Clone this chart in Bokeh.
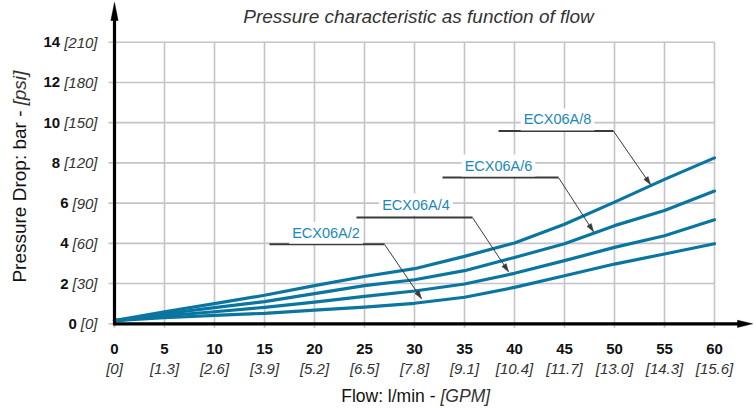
import math
from bokeh.plotting import figure
from bokeh.models import Range1d, Label, ColumnDataSource
from bokeh.core.properties import value
from bokeh.embed import file_html
from bokeh.resources import INLINE

# ---------------- data ----------------
flow = [0, 5, 10, 15, 20, 25, 30, 35, 40, 45, 50, 55, 60]
dp_ecx06a_2 = [0.16, 0.30, 0.42, 0.52, 0.68, 0.83, 1.02, 1.32, 1.81, 2.39, 2.97, 3.47, 3.98]
dp_ecx06a_4 = [0.16, 0.40, 0.60, 0.82, 1.08, 1.36, 1.63, 1.98, 2.51, 3.14, 3.80, 4.38, 5.17]
dp_ecx06a_6 = [0.16, 0.50, 0.80, 1.10, 1.50, 1.90, 2.19, 2.64, 3.30, 3.98, 4.88, 5.63, 6.60]
dp_ecx06a_8 = [0.16, 0.60, 1.00, 1.42, 1.90, 2.35, 2.74, 3.35, 4.02, 4.95, 6.05, 7.18, 8.25]
series_names = ["ECX06A/2", "ECX06A/4", "ECX06A/6", "ECX06A/8"]

x_ticks = [0, 5, 10, 15, 20, 25, 30, 35, 40, 45, 50, 55, 60]
x_flow_labels = ["0", "5", "10", "15", "20", "25", "30", "35", "40", "45", "50", "55", "60"]
x_gpm_labels = ["[0]", "[1.3]", "[2.6]", "[3.9]", "[5.2]", "[6.5]", "[7.8]",
                "[9.1]", "[10.4]", "[11.7]", "[13.0]", "[14.3]", "[15.6]"]
y_ticks = [0, 2, 4, 6, 8, 10, 12, 14]
y_bar_labels = ["0", "2", "4", "6", "8", "10", "12", "14"]
y_psi_labels = ["[0]", "[30]", "[60]", "[90]", "[120]", "[150]", "[180]", "[210]"]

title_text = "Pressure characteristic as function of flow"
x_title = "Flow: l/min -"
x_title_unit = "[GPM]"
y_title = "Pressure Drop: bar -"
y_title_unit = "[psi]"

# callout annotations (data units)
label_x = [21.15, 30.15, 38.4, 44.3]
label_y = [4.53, 5.93, 7.87, 10.16]
leader_x0 = [15.5, 24.2, 32.8, 38.4]
leader_x1 = [27.0, 35.8, 44.4, 49.9]
leader_y = [3.95, 5.28, 7.27, 9.58]
tip_x = [30.7, 39.4, 47.9, 53.6]
tip_y = [1.25, 2.59, 4.58, 6.92]

# ---------------- style ----------------
FONT = "Liberation Sans"
CURVE = "#0a76a0"
LABEL_C = "#1b88b8"
GRID = "#c4c4ca"
LEAD = "#3a3a3a"
W, H = 754, 408
PX_X = 10.0            # pixels per l/min
PX_Y = 20.114          # pixels per bar
X0_PX, Y0_PX = 114.0, 323.3   # pixel position of the origin

def dx(px):  # pixel length -> data length (x)
    return px / PX_X

def dy(px):  # pixel length -> data length (y)
    return px / PX_Y

p = figure(width=W, height=H,
           x_range=Range1d(-X0_PX / PX_X, (W - X0_PX) / PX_X),
           y_range=Range1d(-(H - Y0_PX) / PX_Y, Y0_PX / PX_Y),
           output_backend="svg", toolbar_location=None,
           x_axis_location=None, y_axis_location=None, min_border=0)
p.outline_line_color = None
p.background_fill_color = "white"
p.border_fill_color = "white"
p.xgrid.visible = False
p.ygrid.visible = False

x_max, y_max = x_ticks[-1], y_ticks[-1]

# grid lines (with the small outward tick)
p.segment(x0=x_ticks, y0=[-dy(4)] * len(x_ticks), x1=x_ticks, y1=[y_max] * len(x_ticks),
          line_color=GRID, line_width=1.6)
p.segment(x0=[-dx(6)] * len(y_ticks), y0=y_ticks, x1=[x_max] * len(y_ticks), y1=y_ticks,
          line_color=GRID, line_width=1.6)

# curves
for ys in (dp_ecx06a_2, dp_ecx06a_4, dp_ecx06a_6, dp_ecx06a_8):
    p.line(flow, ys, line_color=CURVE, line_width=3.2, line_join="round", line_cap="round")

# leader lines and arrow heads
p.segment(x0=leader_x0, y0=leader_y, x1=leader_x1, y1=leader_y, line_color=LEAD, line_width=2)
p.segment(x0=leader_x1, y0=leader_y, x1=tip_x, y1=tip_y, line_color=LEAD, line_width=1)
head_xs, head_ys = [], []
for i in range(len(tip_x)):
    vx = (tip_x[i] - leader_x1[i]) * PX_X
    vy = (tip_y[i] - leader_y[i]) * PX_Y
    L = math.hypot(vx, vy)
    ux, uy = vx / L, vy / L
    hl, hw = 8.0, 2.6
    bx, by = -ux * hl, -uy * hl
    nx, ny = -uy * hw, ux * hw
    head_xs.append([tip_x[i], tip_x[i] + dx(bx + nx), tip_x[i] + dx(bx - nx)])
    head_ys.append([tip_y[i], tip_y[i] + dy(by + ny), tip_y[i] + dy(by - ny)])
p.patches(head_xs, head_ys, fill_color=LEAD, line_color=LEAD, line_width=0.5)

for i in range(len(series_names)):
    p.add_layout(Label(x=label_x[i], y=label_y[i], text=series_names[i], text_align="center",
                       text_baseline="middle", text_font=FONT, text_font_size="14.5px",
                       text_color=LABEL_C, background_fill_color="white", padding=3))

# axis lines with arrow heads
x_axis_end = (752 - X0_PX) / PX_X
y_axis_end = (Y0_PX - 2) / PX_Y
p.segment(x0=[-dx(1.5), 0], y0=[0, -dy(1.5)], x1=[x_axis_end - dx(10), 0], y1=[0, y_axis_end - dy(10)],
          line_color="black", line_width=3.2)
p.patches(
    [[x_axis_end, x_axis_end - dx(15), x_axis_end - dx(15)], [0, -dx(3.6), dx(3.6)]],
    [[0, dy(3.6), -dy(3.6)], [y_axis_end, y_axis_end - dy(18), y_axis_end - dy(18)]],
    fill_color="black", line_color="black", line_width=0.5)

# y tick labels: italic psi (right-aligned) and bold bar numbers before them
psi_src = ColumnDataSource(dict(x=[-dx(17)] * len(y_ticks), y=y_ticks, t=y_psi_labels))
p.text(x="x", y="y", text="t", source=psi_src, text_align="right", text_baseline="middle",
       text_font=value(FONT), text_font_size="15px", text_font_style="italic", text_color="#333333")
bar_offsets = [-(17 + 8.34 * (len(s) - 1) + 4) for s in y_psi_labels]
bar_src = ColumnDataSource(dict(x=[0] * len(y_ticks), y=y_ticks, t=y_bar_labels, off=bar_offsets))
p.text(x="x", y="y", text="t", x_offset="off", source=bar_src, text_align="right",
       text_baseline="middle", text_font=value(FONT), text_font_size="15px",
       text_font_style="bold", text_color="#111111")

# x tick labels: bold flow numbers and italic GPM below
flow_src = ColumnDataSource(dict(x=x_ticks, y=[-dy(24.7)] * len(x_ticks), t=x_flow_labels))
p.text(x="x", y="y", text="t", source=flow_src, text_align="center", text_baseline="middle",
       text_font=value(FONT), text_font_size="15px", text_font_style="bold", text_color="#111111")
gpm_src = ColumnDataSource(dict(x=x_ticks, y=[-dy(44.2)] * len(x_ticks), t=x_gpm_labels))
p.text(x="x", y="y", text="t", source=gpm_src, text_align="center", text_baseline="middle",
       text_font=value(FONT), text_font_size="15px", text_font_style="italic", text_color="#333333")

# axis titles
xt_y = -dy(72.5)
p.add_layout(Label(x=(435 - X0_PX) / PX_X, y=xt_y, text=x_title, text_align="right",
                   text_baseline="middle", text_font=FONT, text_font_size="17.5px", text_color="#111111"))
p.add_layout(Label(x=(440 - X0_PX) / PX_X, y=xt_y, text=x_title_unit, text_align="left",
                   text_baseline="middle", text_font=FONT, text_font_size="17.5px",
                   text_font_style="italic", text_color="#333333"))
yt_x = -(X0_PX - 19) / PX_X
p.add_layout(Label(x=yt_x, y=(Y0_PX - 110) / PX_Y, text=y_title, angle=math.pi / 2, text_align="right",
                   text_baseline="middle", text_font=FONT, text_font_size="19px", text_color="#111111"))
p.add_layout(Label(x=yt_x, y=(Y0_PX - 105) / PX_Y, text=y_title_unit, angle=math.pi / 2,
                   text_align="left", text_baseline="middle", text_font=FONT, text_font_size="19px",
                   text_font_style="italic", text_color="#333333"))

# chart title
p.add_layout(Label(x=(418 - X0_PX) / PX_X, y=(Y0_PX - 16) / PX_Y, text=title_text, text_align="center",
                   text_baseline="alphabetic", text_font=FONT, text_font_size="19px",
                   text_font_style="italic", text_color="#333333"))

open("out.html", "w").write(file_html(p, INLINE))
